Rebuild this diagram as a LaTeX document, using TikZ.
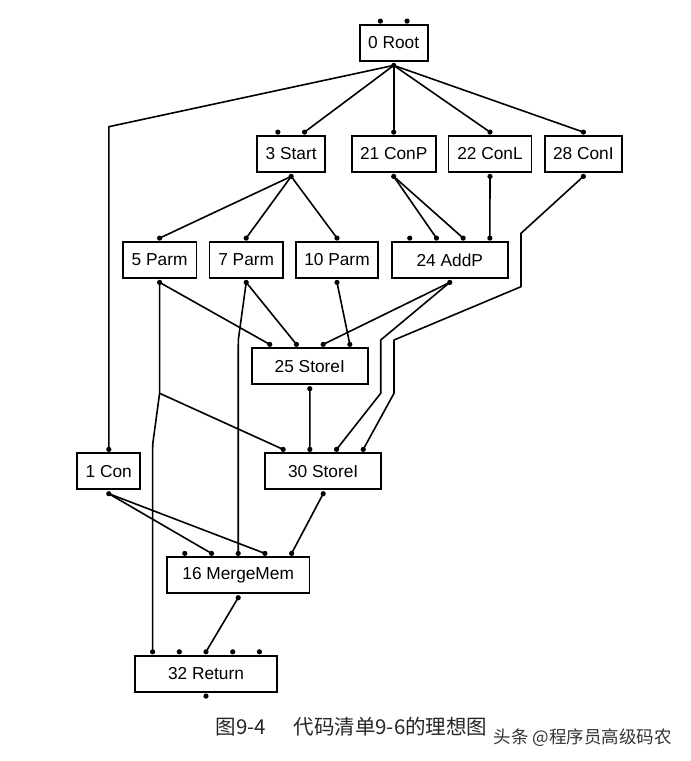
\documentclass[tikz,border=0pt]{standalone}
\usepackage{fontspec}
\setmainfont{Liberation Sans}
\newfontfamily\cjk{Noto Sans CJK SC}
\usetikzlibrary{calc}
\newcommand\mkpins[2]{%
  \foreach \k in {1,...,#2}{
    \coordinate (#1-i\k) at ($(#1.north)+({(\k-(#2+1)/2)*26.7},-3)$);
    \fill (#1-i\k) circle (2.6pt);
  }
  \coordinate (#1-o) at ($(#1.south)+(0,3.5)$);
  \fill (#1-o) circle (2.6pt);
}
\begin{document}
\begin{tikzpicture}[x=1pt,y=-1pt,
  box/.style={draw,line width=1.8pt,inner sep=0pt,minimum height=36pt,
    font=\fontsize{17.3}{20}\selectfont},
  wire/.style={line width=1.6pt,line join=round},
  captxt/.style={anchor=west,font=\cjk\fontsize{20.5}{24}\selectfont,text=black!85},
  wmtxt/.style={anchor=west,font=\cjk\fontsize{17.5}{20}\selectfont,text=black!80}
]
\useasboundingbox[fill=white] (0,0) rectangle (691,761);

% nodes
\node[box,minimum width=68pt]    (root)   at (393.7,43)    {0 Root};
\node[box,minimum width=68pt]    (start)  at (291.2,154)   {3 Start};
\node[box,minimum width=84pt]    (conp)   at (393.7,154)   {21 ConP};
\node[box,minimum width=83pt]    (conl)   at (490,154)     {22 ConL};
\node[box,minimum width=77.5pt]  (coni)   at (583.4,154)   {28 ConI};
\node[box,minimum width=73.7pt]  (parm5)  at (159.6,260)   {5 Parm};
\node[box,minimum width=73.3pt]  (parm7)  at (246.2,260)   {7 Parm};
\node[box,minimum width=82.4pt]  (parm10) at (337,260)     {10 Parm};
\node[box,minimum width=115.8pt] (addp)   at (449.8,260)   {24 AddP};
\node[box,minimum width=115.6pt] (st25)   at (309.8,366.3) {25 StoreI};
\node[box,minimum width=63pt]    (con1)   at (108.8,471.3) {1 Con};
\node[box,minimum width=116pt]   (st30)   at (323.2,471.3) {30 StoreI};
\node[box,minimum width=142.6pt] (merge)  at (238.2,575.3) {16 MergeMem};
\node[box,minimum width=142pt]   (ret)    at (206,673.7)   {32 Return};

% pins
\mkpins{root}{2}
\mkpins{start}{2}
\mkpins{conp}{1}
\mkpins{conl}{1}
\mkpins{coni}{1}
\mkpins{parm5}{1}
\mkpins{parm7}{1}
\mkpins{parm10}{1}
\mkpins{addp}{4}
\mkpins{st25}{4}
\mkpins{con1}{1}
\mkpins{st30}{4}
\mkpins{merge}{5}
\mkpins{ret}{5}

% bend points
\coordinate (bA) at (108.8,126.7);
\coordinate (bC1) at (521,233.3);
\coordinate (bC2) at (521,286.7);
\coordinate (bC3) at (394,340);
\coordinate (bC4) at (394,393.3);
\coordinate (bP5) at (159.6,393.3);
\coordinate (bP5b) at (152.7,444.3);
\coordinate (bP7) at (238.3,340);
\coordinate (bD1) at (380.7,340);
\coordinate (bD2) at (380.7,393.3);

% connectors
\draw[wire] (root-o) -- (bA) -- (con1-i1);
\draw[wire] (root-o) -- (start-i2);
\draw[wire] (root-o) -- (conp-i1);
\draw[wire] (root-o) -- (conl-i1);
\draw[wire] (root-o) -- (coni-i1);
\draw[wire] (start-o) -- (parm5-i1);
\draw[wire] (start-o) -- (parm7-i1);
\draw[wire] (start-o) -- (parm10-i1);
\draw[wire] (conp-o) -- (addp-i2);
\draw[wire] (conp-o) -- (addp-i3);
\draw[wire] (conl-o) -- (addp-i4);
\draw[wire] (coni-o) -- (bC1) -- (bC2) -- (bC3) -- (bC4) -- (st30-i4);
\draw[wire] (parm5-o) -- (st25-i1);
\draw[wire] (parm5-o) -- (bP5) -- (st30-i1);
\draw[wire] (bP5) -- (bP5b) -- (ret-i1);
\draw[wire] (parm7-o) -- (st25-i2);
\draw[wire] (parm7-o) -- (bP7) -- (merge-i3);
\draw[wire] (parm10-o) -- (st25-i4);
\draw[wire] (addp-o) -- (st25-i3);
\draw[wire] (addp-o) -- (bD1) -- (bD2) -- (st30-i3);
\draw[wire] (st25-o) -- (st30-i2);
\draw[wire] (con1-o) -- (merge-i2);
\draw[wire] (con1-o) -- (merge-i4);
\draw[wire] (st30-o) -- (merge-i5);
\draw[wire] (merge-o) -- (ret-i3);

% caption and watermark
\node[captxt] (cap1) at (212,727) {图9-4};
\node[captxt] (cap2) at (290,727) {代码清单9-6的理想图};
\node[wmtxt] (wm) at (490,738) {头条 @程序员高级码农};
\end{tikzpicture}
\end{document}
